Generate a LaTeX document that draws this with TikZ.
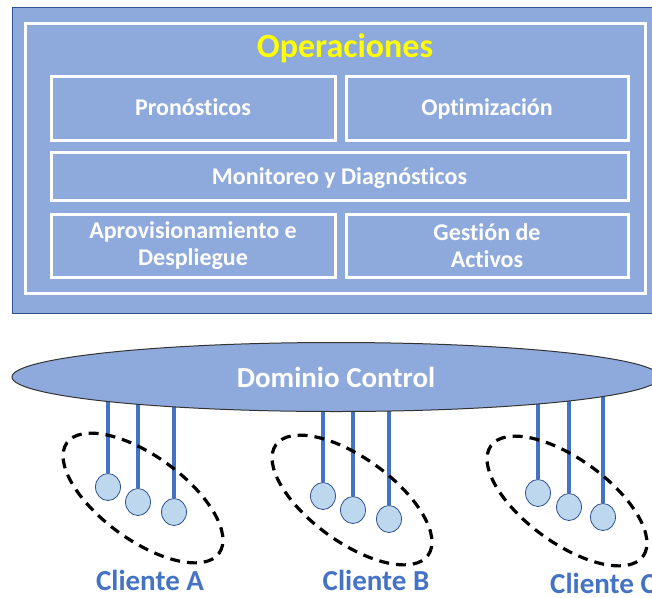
\documentclass[tikz,border=0pt]{standalone}
\usepackage{fontspec}
\setmainfont[Ligatures=NoCommon]{Carlito}
\usetikzlibrary{shapes.geometric,backgrounds}
\definecolor{opfondo}{RGB}{142,169,219}
\definecolor{opborde}{RGB}{47,82,143}
\definecolor{azul}{RGB}{68,114,196}
\definecolor{celeste}{RGB}{189,215,238}
\tikzset{
  caja/.style={draw=white,line width=3pt,align=center,text=white,
    font=\bfseries\fontsize{24}{27}\selectfont,inner sep=0pt},
  linea/.style={text height=20pt,text depth=4.5pt},
  dispositivo/.style={ellipse,draw=opborde,line width=0.8pt,fill=celeste,
    minimum width=25pt,minimum height=27pt,inner sep=0pt},
  enlace/.style={azul,line width=3.2pt},
  grupo/.style={ellipse,draw=black,line width=3.2pt,dash pattern=on 10pt off 7pt,
    minimum width=188pt,minimum height=84pt,rotate=-36},
  cliente/.style={text=azul,font=\bfseries\fontsize{29}{31}\selectfont}
}

\begin{document}
\begin{tikzpicture}[x=1pt,y=-1pt]
\useasboundingbox (0,0) rectangle (652,597);
\clip (0,0) rectangle (652,597);
% bloque de operaciones
\draw[fill=opfondo,draw=opborde,line width=1pt] (12,7) rectangle (670,313);
\draw[white,line width=3pt] (25,23) rectangle (645,293);
\node[text={rgb,255:red,255;green,255;blue,0},font=\bfseries\fontsize{34}{38}\selectfont] (op) at (345,48) {Operaciones};
\node[caja,linea,minimum width=284pt,minimum height=64pt] (pron) at (193,108) {Pronósticos};
\node[caja,linea,minimum width=282pt,minimum height=64pt] (opt) at (487,108) {Optimización};
\node[caja,linea,minimum width=577pt,minimum height=48pt] (mon) at (339.5,176.5) {Monitoreo y Diagnósticos};
\node[caja,minimum width=284pt,minimum height=63pt] (aprov) at (193,245.5) {Aprovisionamiento e\\Despliegue};
\node[caja,minimum width=282pt,minimum height=63pt] (gest) at (487,245.5) {Gestión de\\Activos};

% dominio de control
\node[ellipse,fill=opfondo,draw=black!80,line width=1pt,minimum width=648pt,minimum height=69pt,
  text=white,font=\bfseries\fontsize{29}{32}\selectfont] (dom) at (336,377) {Dominio Control};

% clientes
\node[grupo] (gA) at (143,498) {};
\node[grupo] (gB) at (352,500) {};
\node[grupo] (gC) at (567,501) {};
\node[dispositivo] (a1) at (108,487) {};
\node[dispositivo] (a2) at (138,502) {};
\node[dispositivo] (a3) at (174,512) {};
\node[dispositivo] (b1) at (323,496) {};
\node[dispositivo] (b2) at (353,510) {};
\node[dispositivo] (b3) at (389,519) {};
\node[dispositivo] (c1) at (538,493) {};
\node[dispositivo] (c2) at (569,507) {};
\node[dispositivo] (c3) at (603,517) {};
\begin{scope}[on background layer]
  \foreach \n in {a1,a2,a3,b1,b2,b3,c1,c2,c3}
    \draw[enlace] (\n.north) -- (\n |- dom.center);
\end{scope}
\node[cliente] (cA) at (150,580) {Cliente A};
\node[cliente] (cB) at (376,580) {Cliente B};
\node[cliente] (cC) at (603,583) {Cliente C};
\end{tikzpicture}
\end{document}
